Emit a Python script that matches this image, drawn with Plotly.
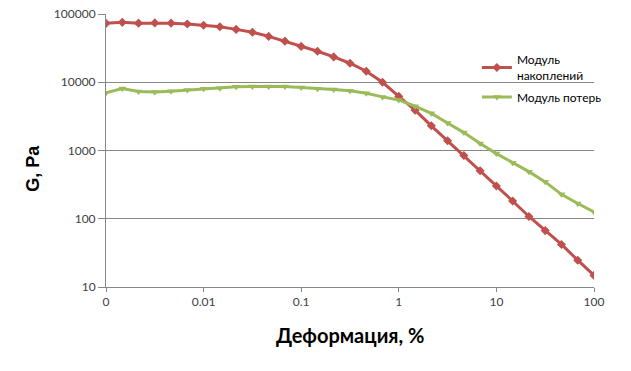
import plotly.graph_objects as go

# Strain values (%), log-spaced; the first one is shown as "0" on the axis
strain = [10 ** (-3 + k / 6) for k in range(31)]

storage_modulus = [73000, 75500, 73500, 74000, 73500, 71500, 68500, 65000, 59500, 54000,
                   47000, 40000, 33500, 28500, 23500, 19000, 14500, 10000, 6200, 3900,
                   2300, 1390, 845, 506, 302, 182, 108, 67, 42, 24.7, 14.8]
loss_modulus = [7000, 8100, 7300, 7200, 7400, 7700, 8000, 8200, 8600, 8700,
                8700, 8700, 8400, 8000, 7800, 7500, 6900, 6100, 5500, 4450,
                3500, 2530, 1830, 1270, 900, 664, 490, 347, 228, 167, 126]

x_tickvals = [0.001, 0.01, 0.1, 1, 10, 100]
x_ticktext = ["0", "0.01", "0.1", "1", "10", "100"]
y_tickvals = [10, 100, 1000, 10000, 100000]
y_ticktext = ["10", "100", "1000", "10000", "100000"]

series_names = ["Модуль<br>накоплений", "Модуль потерь"]
x_title = "Деформация, %"
y_title = "G, Pa"

fig = go.Figure()
fig.add_trace(go.Scatter(
    x=strain, y=storage_modulus, name=series_names[0], mode="lines+markers",
    legendgroup="g1",
    line=dict(color="#C0504D", width=3),
    marker=dict(symbol="diamond", size=7, color="#C0504D"),
))
fig.add_trace(go.Scatter(
    x=strain, y=loss_modulus, name=series_names[1], mode="lines+markers",
    legendgroup="g2",
    line=dict(color="#9BBB59", width=3),
    marker=dict(symbol="triangle-down", size=7, color="#9BBB59"),
))

axis_font = dict(family="Lato, sans-serif", size=12, color="#404040")
fig.update_layout(
    autosize=True,
    margin=dict(l=106, r=37, t=14, b=84, autoexpand=False),
    paper_bgcolor="white", plot_bgcolor="white",
    font=dict(family="Lato, sans-serif"),
    xaxis=dict(type="log", range=[-3, 2], tickvals=x_tickvals, ticktext=x_ticktext,
               showgrid=False, zeroline=False, showline=True, linecolor="#868686",
               linewidth=1, ticks="outside", ticklen=4, tickcolor="#868686",
               tickfont=axis_font, automargin=False),
    yaxis=dict(type="log", range=[1, 5], tickvals=y_tickvals, ticktext=y_ticktext,
               showgrid=True, gridcolor="#868686", gridwidth=1, zeroline=False,
               showline=True, linecolor="#868686", linewidth=1,
               ticks="outside", ticklen=7, tickcolor="#868686", tickfont=axis_font,
               automargin=False),
    legend=dict(x=0.76, y=0.885, xanchor="left", yanchor="top", traceorder="grouped",
                bgcolor="rgba(0,0,0,0)", font=dict(family="Lato, sans-serif", size=12, color="#000000"),
                tracegroupgap=3),
    showlegend=True,
    annotations=[
        dict(text="<b>" + x_title + "</b>", xref="paper", yref="paper",
             x=0.5, y=-0.175, xanchor="center", yanchor="middle", showarrow=False,
             font=dict(family="Lato, sans-serif", size=20, color="#000000")),
        dict(text="<b>" + y_title + "</b>", xref="paper", yref="paper",
             x=-0.15, y=0.436, xanchor="center", yanchor="middle", showarrow=False,
             textangle=-90,
             font=dict(family="Liberation Sans, Arial, sans-serif", size=18, color="#000000")),
    ],
)

fig.write_html("out.html", config={"displayModeBar": False},
               default_width="100%", default_height="100%")
with open("out.html", encoding="utf-8") as f:
    html = f.read()
html = html.replace(
    "<head>",
    "<head><style>html,body{margin:0;padding:0;overflow:hidden;width:100%;height:100%;}</style>",
    1)
with open("out.html", "w", encoding="utf-8") as f:
    f.write(html)
